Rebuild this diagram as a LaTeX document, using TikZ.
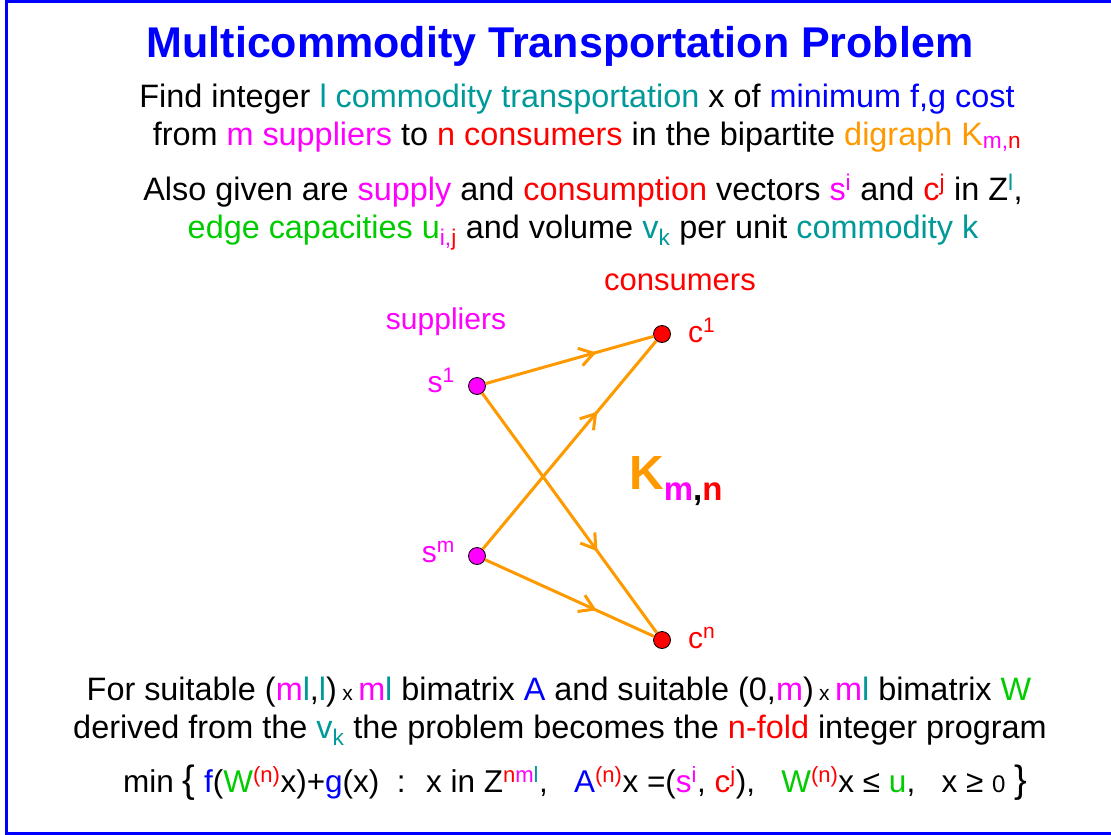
\documentclass[tikz,border=0pt]{standalone}
\usepackage{fontspec}
\setmainfont{Liberation Sans}
\usetikzlibrary{calc,arrows.meta,decorations.markings}
\definecolor{kmagenta}{RGB}{255,0,255}
\definecolor{kteal}{RGB}{0,153,153}
\definecolor{korange}{RGB}{255,153,0}
\definecolor{kgreen}{RGB}{0,204,0}
\newcommand{\colM}[1]{\textcolor{kmagenta}{#1}}
\newcommand{\colR}[1]{\textcolor{red}{#1}}
\newcommand{\colT}[1]{\textcolor{kteal}{#1}}
\newcommand{\colB}[1]{\textcolor{blue}{#1}}
\newcommand{\colG}[1]{\textcolor{kgreen}{#1}}
\newcommand{\colO}[1]{\textcolor{korange}{#1}}
\newcommand{\supc}[2]{\textsuperscript{\textcolor{#1}{#2}}}
\newcommand{\smallx}{{\fontsize{21}{21}\selectfont x}}
\tikzset{
  textline/.style={font=\fontsize{32.4}{38}\selectfont, anchor=base, inner sep=0pt},
  vlabel/.style={font=\fontsize{30}{36}\selectfont, inner sep=0pt},
  supplier/.style={circle, draw=black, fill=kmagenta, minimum size=17pt, inner sep=0pt, line width=0.8pt},
  consumer/.style={supplier, fill=red},
  shipment/.style={korange, line width=3pt, postaction={decorate},
    decoration={markings, mark=at position 0.66 with {\arrow{Straight Barb[length=14pt,width=18pt]}}}},
}

\begin{document}
\begin{tikzpicture}[x=1pt,y=-1pt]
        \useasboundingbox (0,0) rectangle (1111,835);
        % frame
        \draw[blue, line width=3pt] (1111,1.5) -- (6,1.5) -- (6,833.5) -- (1111,833.5);

        % title and problem statement
        \node[textline, font=\fontsize{43}{50}\selectfont\bfseries, blue] (title) at (560,57) {Multicommodity Transportation Problem};
        \node[textline] (find) at (577,107) {Find integer \colT{l commodity transportation} x of \colB{minimum f,g cost}};
        \node[textline] (from) at (587,145) {from \colM{m suppliers} to \colR{n consumers} in the bipartite \colO{digraph K}\textsubscript{\colM{m,}\colR{n}}};
        \node[textline] (given) at (583,200) {Also given are \colM{supply} and \colR{consumption} vectors \colM{s\textsuperscript{i}} and \colR{c\textsuperscript{j}} in Z\supc{kteal}{l},};
        \node[textline] (edges) at (583,238) {\colG{edge capacities u}\textsubscript{\colM{i,}\colR{j}} and volume \colT{v\textsubscript{k}} per unit \colT{commodity k}};

        % the bipartite digraph
        \node[supplier] (s1) at (477,386) {};
        \node[supplier] (sm) at (477,556) {};
        \node[consumer] (c1) at (662,334) {};
        \node[consumer] (cn) at (662,640) {};
        \foreach \s in {s1,sm}{
          \foreach \c in {c1,cn}{
            \draw[shipment] (\s) -- (\c);
          }
        }

        % labels of the graph
        \node[vlabel, kmagenta, anchor=base east] (s1lab) at ($(s1)+(-22,6)$) {s\textsuperscript{1}};
        \node[vlabel, kmagenta, anchor=base east] (smlab) at ($(sm)+(-22,6)$) {s\textsuperscript{m}};
        \node[vlabel, red, anchor=base west] (c1lab) at ($(c1)+(26,8)$) {c\textsuperscript{1}};
        \node[vlabel, red, anchor=base west] (cnlab) at ($(cn)+(26,8)$) {c\textsuperscript{n}};
        \node[vlabel, kmagenta, anchor=base] (supl) at (446,329) {suppliers};
        \node[vlabel, red, anchor=base, font=\fontsize{31}{36}\selectfont] (cons) at (680,290) {consumers};
        \node[anchor=base west, inner sep=0pt, font=\fontsize{48}{50}\selectfont\bfseries, korange] (kmn) at (629,489)
          {K\raisebox{-11pt}{\fontsize{33}{33}\selectfont\colM{m}\textcolor{black}{,}\colR{n}}};

        % n-fold program
        \node[textline] (suit) at (559,700) {For suitable (\colM{m}\colT{l},\colT{l})\,\smallx\,\colM{m}\colT{l} bimatrix \colB{A} and suitable (0,\colM{m})\,\smallx\,\colM{m}\colT{l} bimatrix \colG{W}};
        \node[textline] (derv) at (560,738) {derived from the \colT{v\textsubscript{k}} the problem becomes the \colR{n-fold} integer program};
        \node[textline, font=\fontsize{31.5}{36}\selectfont] (prog) at (575,792) {min {\fontsize{38}{38}\selectfont\{} \colB{f}(\colG{W}\supc{red}{(n)}x)+\colB{g}(x) \ : \ x in Z\textsuperscript{\colR{n}\colM{m}\colT{l}}, \ \ \colB{A}\supc{red}{(n)}x =(\colM{s\textsuperscript{i}}, \colR{c\textsuperscript{j}}), \ \ \colG{W}\supc{red}{(n)}x ≤ \colG{u}, \ \ x ≥ {\fontsize{24}{24}\selectfont 0} {\fontsize{38}{38}\selectfont\}}};
\end{tikzpicture}
\end{document}
